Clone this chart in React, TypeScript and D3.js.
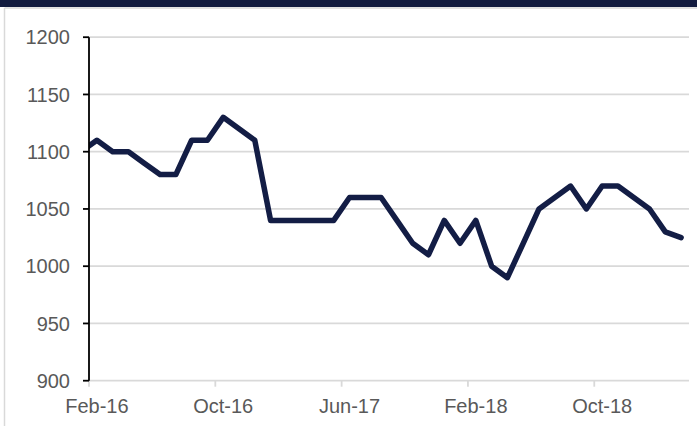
import React from "react";
import * as d3 from "d3";

const months: string[] = [
  "Jan-16", "Feb-16", "Mar-16", "Apr-16", "May-16", "Jun-16", "Jul-16", "Aug-16", "Sep-16", "Oct-16", "Nov-16", "Dec-16",
  "Jan-17", "Feb-17", "Mar-17", "Apr-17", "May-17", "Jun-17", "Jul-17", "Aug-17", "Sep-17", "Oct-17", "Nov-17", "Dec-17",
  "Jan-18", "Feb-18", "Mar-18", "Apr-18", "May-18", "Jun-18", "Jul-18", "Aug-18", "Sep-18", "Oct-18", "Nov-18", "Dec-18",
  "Jan-19", "Feb-19", "Mar-19",
];
const values: number[] = [
  1100, 1110, 1100, 1100, 1090, 1080, 1080, 1110, 1110, 1130, 1120, 1110,
  1040, 1040, 1040, 1040, 1040, 1060, 1060, 1060, 1040, 1020, 1010, 1040,
  1020, 1040, 1000, 990, 1020, 1050, 1060, 1070, 1050, 1070, 1070, 1060,
  1050, 1030, 1025,
];
const xTickLabels: string[] = ["Feb-16", "Oct-16", "Jun-17", "Feb-18", "Oct-18"];
const yTicks: number[] = [900, 950, 1000, 1050, 1100, 1150, 1200];

const axisStart = "Feb-16";
const parse = d3.timeParse("%b-%y");
const start = parse(axisStart) as Date;
const idx = (m: string) => d3.timeMonth.count(start, parse(m) as Date);

export default function App() {
  const W = 697, H = 426;
  const left = 89, right = 689, top = 37.2, bottom = 380.7;
  const x = d3.scaleLinear().domain([0, 38]).range([left, right]);
  const y = d3.scaleLinear().domain([900, 1200]).range([bottom, top]);
  const data = months.map((m, i) => ({ i: idx(m), v: values[i] }));
  const line = d3
    .line<{ i: number; v: number }>()
    .x((d) => x(d.i + 0.5))
    .y((d) => y(d.v));
  const font = "'Liberation Sans', Arial, sans-serif";
  const textColor = "#595959";
  const grid = "#d9d9d9";
  const navy = "#131d45";
  return (
    <svg width={W} height={H} style={{ position: "absolute", left: 0, top: 0 }} fontFamily={font}>
      <rect x={0} y={0} width={W} height={H} fill="#fff" />
      <rect x={0} y={0} width={W} height={7} fill="#121b3f" />
      <line x1={4.5} x2={W} y1={8} y2={8} stroke={grid} strokeWidth={1.5} />
      <line x1={4.5} x2={4.5} y1={8} y2={H} stroke={grid} strokeWidth={1.5} />
      <defs>
        <clipPath id="plot">
          <rect x={left} y={0} width={right - left} height={H} />
        </clipPath>
      </defs>
      {yTicks.map((t) => (
        <line key={"g" + t} x1={left} x2={right} y1={y(t)} y2={y(t)} stroke={grid} strokeWidth={1.8} />
      ))}
      {xTickLabels.map((lbl) => {
        const i = idx(lbl);
        return (
          <g key={lbl}>
            <line x1={x(i)} x2={x(i)} y1={bottom} y2={bottom + 6} stroke={grid} strokeWidth={1.8} />
            <text x={x(i + 0.5)} y={413} textAnchor="middle" fontSize={20} fill={textColor}>
              {lbl}
            </text>
          </g>
        );
      })}
      <path
        d={line(data) || ""}
        fill="none"
        stroke={navy}
        strokeWidth={5.5}
        strokeLinejoin="round"
        strokeLinecap="round"
        clipPath="url(#plot)"
      />
      <line x1={left} x2={left} y1={top} y2={bottom} stroke="#000" strokeWidth={1.8} />
      {yTicks.map((t) => (
        <g key={"y" + t}>
          <line x1={left - 6} x2={left} y1={y(t)} y2={y(t)} stroke="#000" strokeWidth={1.8} />
          <text x={70} y={y(t)} dy="0.36em" textAnchor="end" fontSize={20} fill={textColor}>
            {t}
          </text>
        </g>
      ))}
    </svg>
  );
}
